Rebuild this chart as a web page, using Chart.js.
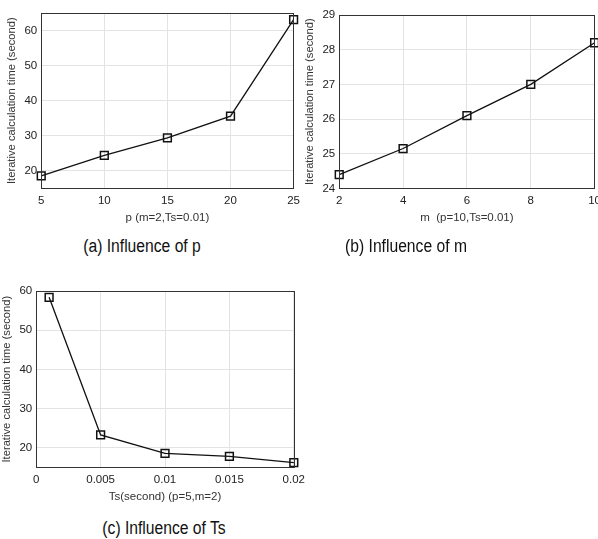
<!DOCTYPE html>
<html>
<head>
<meta charset="utf-8">
<script src="https://cdn.jsdelivr.net/npm/chart.js@4"></script>
<style>
  html, body { margin: 0; padding: 0; background: #fff; }
  body { width: 598px; height: 539px; overflow: hidden; position: relative; }
  canvas { position: absolute; }
  #ca { left: 0; top: 0; }
  #cb { left: 298px; top: 0; }
  #cc { left: 0; top: 280px; }
  .cap { position: absolute; font-family: 'Liberation Sans', Arial, sans-serif;
         font-size: 18px; color: #111; white-space: nowrap; transform: translateX(-50%) scaleX(0.87); }
</style>
</head>
<body>
<canvas id="ca" width="306" height="227"></canvas>
<canvas id="cb" width="309" height="227"></canvas>
<canvas id="cc" width="311" height="226"></canvas>
<div class="cap" style="left:142px; top:236px;">(a) Influence of p</div>
<div class="cap" style="left:406px; top:236px;">(b) Influence of m</div>
<div class="cap" style="left:164px; top:518px;">(c) Influence of Ts</div>
<script>
// (a) influence of p
const pValues = [5, 10, 15, 20, 25];
const pTimes = [18.6, 24.4, 29.4, 35.6, 63.1];
const pYTicks = [20, 30, 40, 50, 60];

// (b) influence of m
const mValues = [2, 4, 6, 8, 10];
const mTimes = [24.4, 25.15, 26.1, 27.0, 28.2];
const mYTicks = [24, 25, 26, 27, 28, 29];

// (c) influence of Ts
const tsValues = [0.001, 0.005, 0.01, 0.015, 0.02];
const tsTimes = [58.4, 23.3, 18.6, 17.8, 16.2];
const tsXTicks = [0, 0.005, 0.01, 0.015, 0.02];
const tsYTicks = [20, 30, 40, 50, 60];

const font = "'Liberation Sans', Arial, sans-serif";

// draws the full box round the plot area
const boxPlugin = {
    id: 'box',
    afterDraw(chart) {
        const a = chart.chartArea, ctx = chart.ctx;
        ctx.save();
        ctx.strokeStyle = '#333';
        ctx.lineWidth = 1;
        ctx.strokeRect(Math.round(a.left) + 0.5, Math.round(a.top) + 0.5,
            Math.round(a.right - a.left), Math.round(a.bottom - a.top));
        ctx.restore();
    }
};

function makeChart(id, xs, ys, xTicks, yTicks, xMin, xMax, yMin, yMax, xTitle, pad) {
    const ctx = document.getElementById(id).getContext('2d');
    return new Chart(ctx, {
        type: 'line',
        data: {
            datasets: [{
                data: xs.map((x, i) => ({ x: x, y: ys[i] })),
                borderColor: '#111',
                borderWidth: 1.3,
                pointStyle: 'rect',
                pointRadius: 5.5,
                pointBorderWidth: 1.5,
                pointBorderColor: '#111',
                pointBackgroundColor: 'rgba(0,0,0,0)',
                tension: 0,
                clip: false
            }]
        },
        options: {
            responsive: false,
            animation: false,
            layout: { padding: pad },
            plugins: { legend: { display: false }, tooltip: { enabled: false } },
            scales: {
                x: {
                    type: 'linear', min: xMin, max: xMax,
                    afterBuildTicks: axis => { axis.ticks = xTicks.map(v => ({ value: v })); },
                    grid: { color: '#e3e3e3', drawTicks: false },
                    border: { display: false },
                    ticks: { font: { family: font, size: 11.5 }, color: '#222', padding: 6, maxRotation: 0,
                             callback: v => String(v) },
                    title: { display: true, text: xTitle, font: { family: font, size: 11.5 }, color: '#333', padding: { top: -3, bottom: 0 } }
                },
                y: {
                    min: yMin, max: yMax,
                    afterBuildTicks: axis => { axis.ticks = yTicks.map(v => ({ value: v })); },
                    grid: { color: '#e3e3e3', drawTicks: false },
                    border: { display: false },
                    ticks: { font: { family: font, size: 11.5 }, color: '#222', padding: 4 },
                    title: { display: true, text: 'Iterative calculation time (second)', font: { family: font, size: 11.2 }, color: '#333', padding: { top: 0, bottom: 2 } }
                }
            }
        },
        plugins: [boxPlugin]
    });
}

makeChart('ca', pValues, pTimes, pValues, pYTicks, 5, 25, 15, 65, 'p (m=2,Ts=0.01)',
    { left: 5, top: 13, right: 0, bottom: 2 });
makeChart('cb', mValues, mTimes, mValues, mYTicks, 2, 10, 24, 29, 'm  (p=10,Ts=0.01)',
    { left: 5, top: 15, right: 0, bottom: 2 });
makeChart('cc', tsValues, tsTimes, tsXTicks, tsYTicks, 0, 0.02, 15, 60, 'Ts(second) (p=5,m=2)',
    { left: 0, top: 11, right: 0, bottom: 2 });
</script>
</body>
</html>
